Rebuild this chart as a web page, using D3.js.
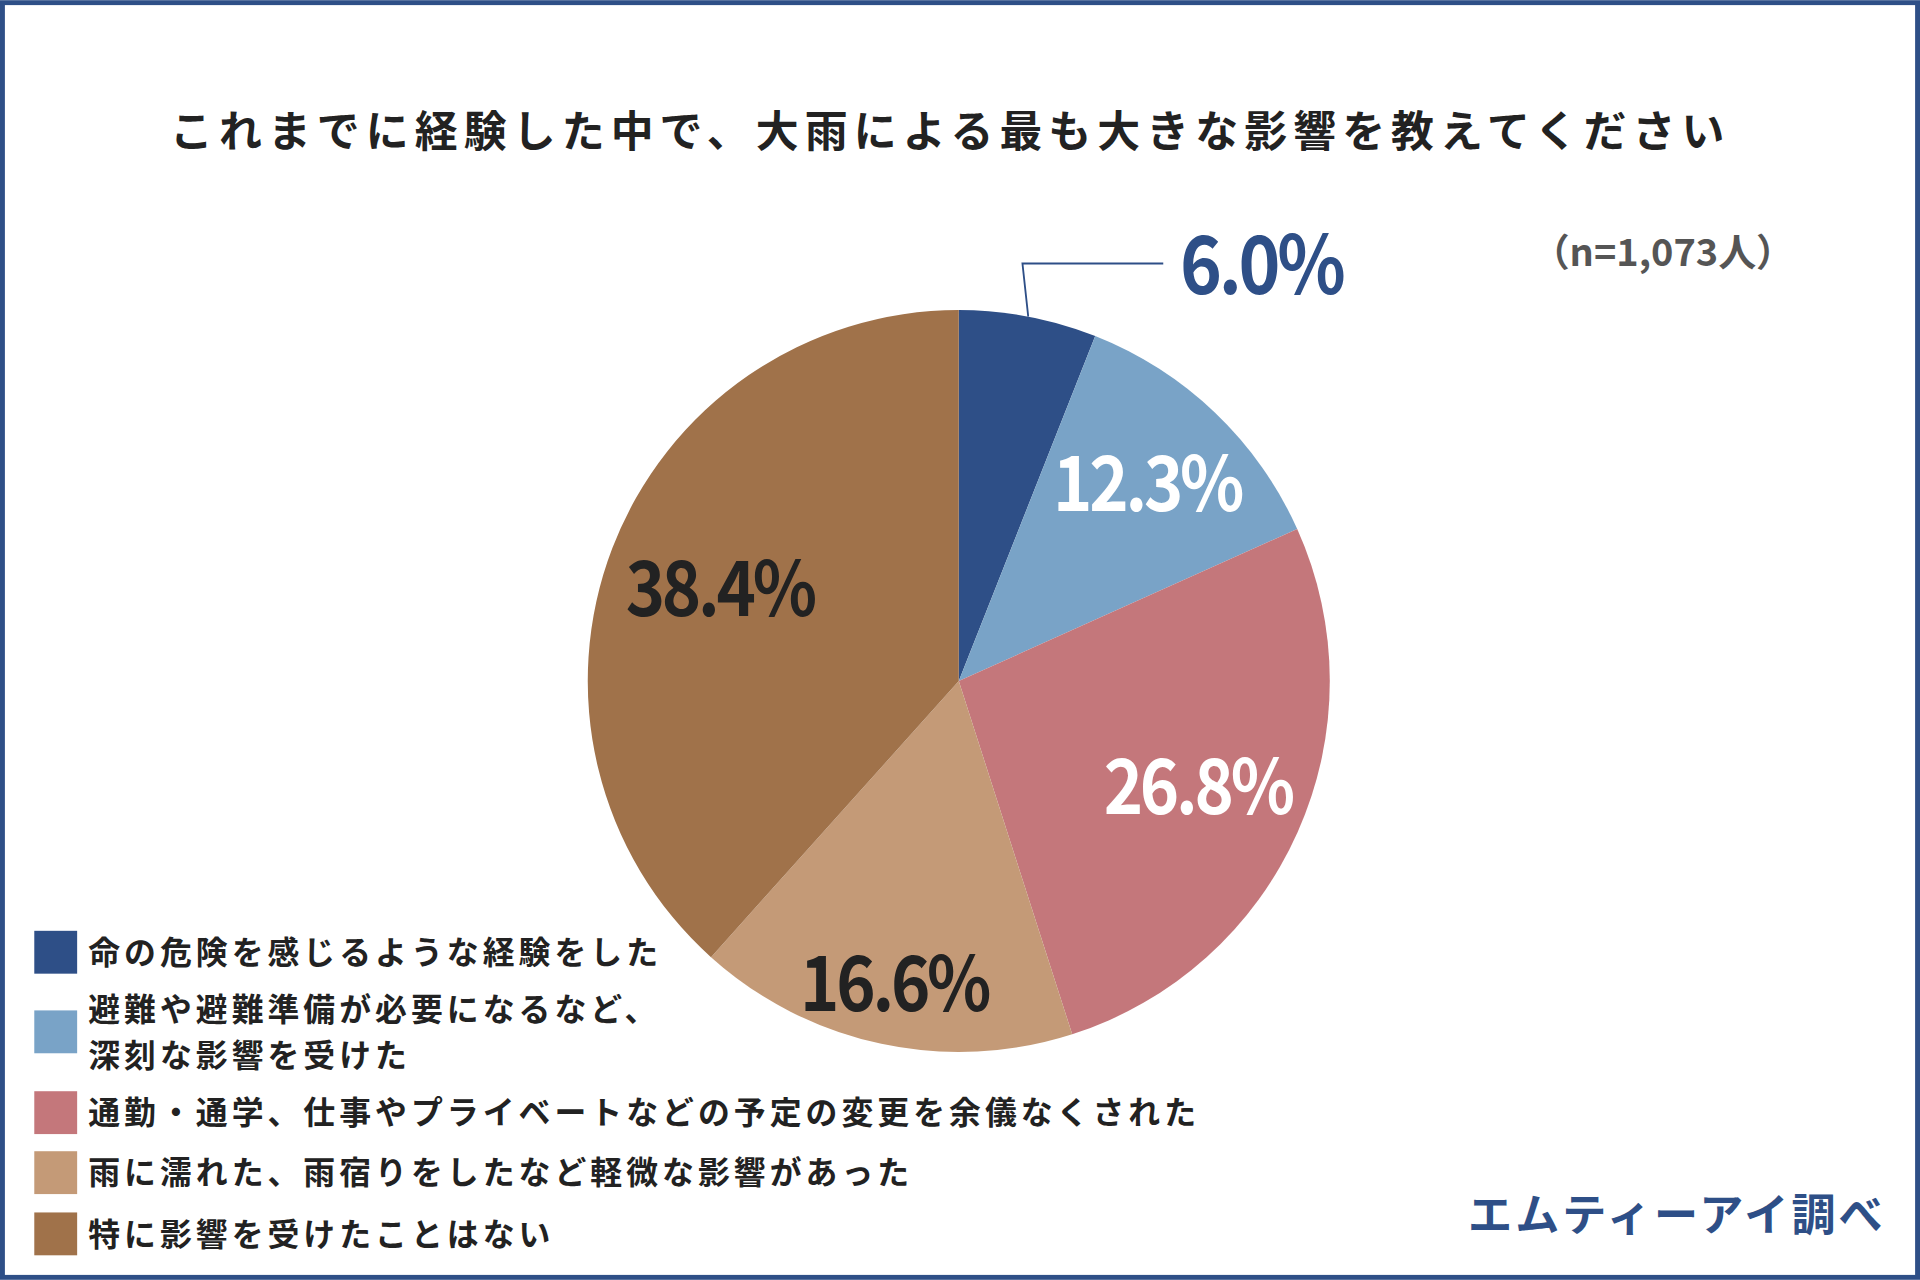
<!DOCTYPE html>
<html><head><meta charset="utf-8">
<script src="https://cdn.jsdelivr.net/npm/d3@7"></script>
<style>body{margin:0;background:#fff}svg{display:block}</style>
</head><body><svg id="c" width="1920" height="1280" viewBox="0 0 1568 1045"></svg>
<script>
// Chart data
const categories = ["命の危険を感じるような経験をした", "避難や避難準備が必要になるなど、\n深刻な影響を受けた", "通勤・通学、仕事やプライベートなどの予定の変更を余儀なくされた", "雨に濡れた、雨宿りをしたなど軽微な影響があった", "特に影響を受けたことはない"];
const values = [6.0, 12.3, 26.8, 16.6, 38.4];
const colors = ["#2e4f87", "#79a3c7", "#c4777b", "#c49a77", "#a0724a"];
const labelColors = ["#2e4f87", "#fff", "#fff", "#222", "#222"];
const title = "これまでに経験した中で、大雨による最も大きな影響を教えてください";
const note = "（n=1,073人）";
const source = "エムティーアイ調べ";

const svg = d3.select("#c");
const font = "'Noto Sans CJK JP', 'Noto Sans', sans-serif";
const cx = 783, cy = 556, r = 303;

svg.append("rect").attr("x", 2).attr("y", 2).attr("width", 1564).attr("height", 1041)
  .attr("fill", "#fff").attr("stroke", "#2e4f87").attr("stroke-width", 4);

svg.append("text").attr("x", 776).attr("y", 120).attr("text-anchor", "middle")
  .attr("font-family", font).attr("font-weight", 700).attr("font-size", 35).attr("letter-spacing", 5)
  .attr("fill", "#222").text(title);
svg.append("text").attr("x", 1358).attr("y", 217).attr("text-anchor", "middle")
  .attr("font-family", font).attr("font-weight", 700).attr("font-size", 31).attr("fill", "#555").text(note);

const pie = d3.pie().sort(null).value(d => d)(values);
const arc = d3.arc().innerRadius(0).outerRadius(r);
const g = svg.append("g").attr("transform", `translate(${cx},${cy})`);
g.selectAll("path").data(pie).join("path").attr("d", arc).attr("fill", (d, i) => colors[i]);

// label positions as fraction of radius along slice mid-angle
const labelR = [0, 0.735, 0.705, 0.835, 0.69];
pie.forEach((d, i) => {
  let x, y;
  if (i === 0) { x = 1030 - cx; y = 240 - cy; }
  else {
    const a = (d.startAngle + d.endAngle) / 2;
    x = Math.sin(a) * r * labelR[i]; y = -Math.cos(a) * r * labelR[i] + 22;
  }
  g.append("text").attr("x", x).attr("y", y).attr("text-anchor", "middle")
    .attr("font-family", font).attr("font-weight", 700).attr("font-size", i === 0 ? 66 : 62)
    .attr("letter-spacing", -3).attr("fill", labelColors[i])
    .attr("transform", `translate(${x},${y}) scale(0.88,1) translate(${-x},${-y})`)
    .text(values[i].toFixed(1) + "%");
});
// leader line for the small slice
const a0 = (pie[0].startAngle + pie[0].endAngle) / 2;
g.append("polyline").attr("fill", "none").attr("stroke", "#2e4f87").attr("stroke-width", 1.5)
  .attr("points", [[Math.sin(a0) * r, -Math.cos(a0) * r], [835 - cx, 215 - cy], [950 - cx, 215 - cy]].join(" "));

// legend
const legY = [760, 825, 891, 940, 990];
categories.forEach((c, i) => {
  svg.append("rect").attr("x", 28).attr("y", legY[i]).attr("width", 35).attr("height", 35).attr("fill", colors[i]);
  const lines = c.split("\n");
  const t = svg.append("text").attr("font-family", font).attr("font-weight", 700)
    .attr("font-size", 26).attr("letter-spacing", 3.3).attr("fill", "#222");
  lines.forEach((l, j) => t.append("tspan").attr("x", 72)
    .attr("y", legY[i] + 27 + (lines.length > 1 ? -18 : 0) + j * 37).text(l));
});

svg.append("text").attr("x", 1540).attr("y", 1005).attr("text-anchor", "end")
  .attr("font-family", font).attr("font-weight", 700).attr("font-size", 36).attr("letter-spacing", 2.5)
  .attr("fill", "#2e4f87").text(source);
</script></body></html>
